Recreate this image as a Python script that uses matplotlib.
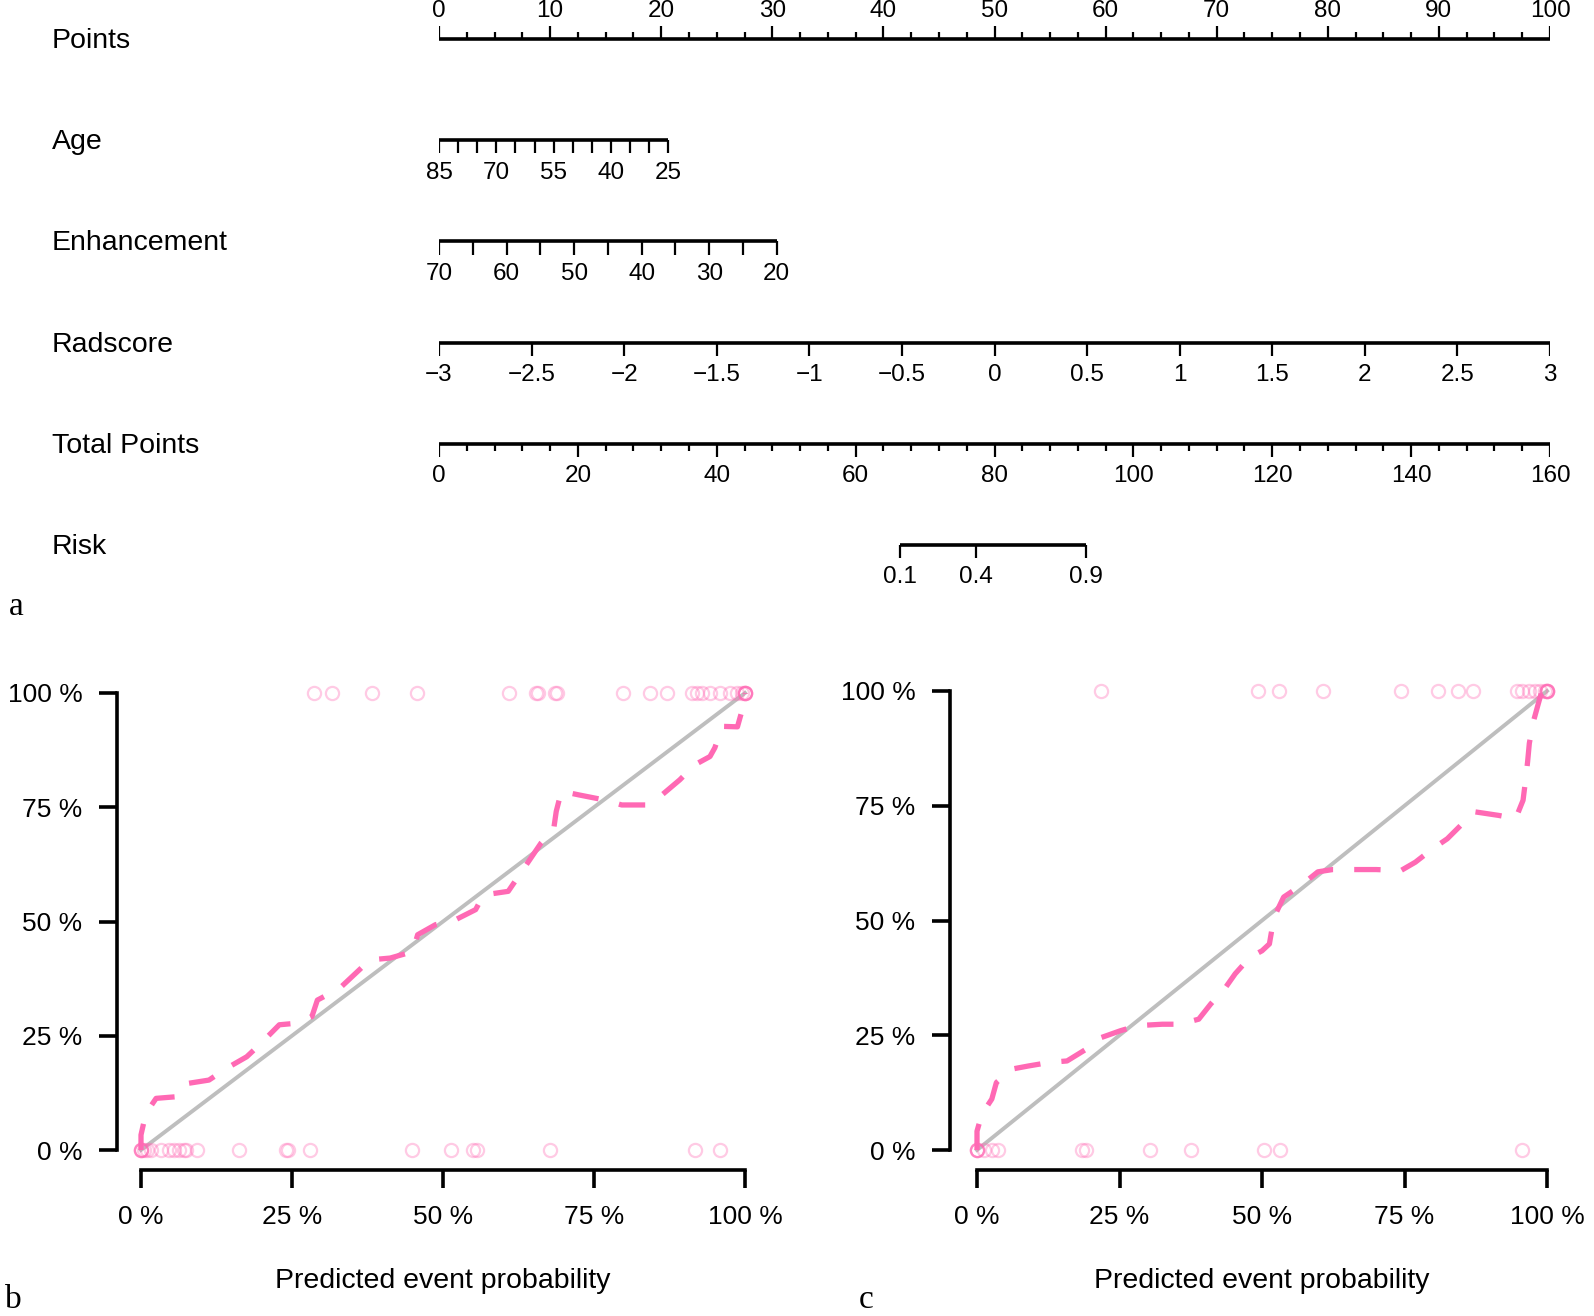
import numpy as np
import matplotlib.pyplot as plt
from matplotlib.transforms import blended_transform_factory

plt.rcParams['font.family'] = ['Liberation Sans', 'DejaVu Sans']

# ---- nomogram (a) ----
row_names = ['Points', 'Age', 'Enhancement', 'Radscore', 'Total Points', 'Risk']

points_major = np.arange(0, 101, 10)
points_minor = np.arange(0, 100.1, 2.5)

age_ticks = np.arange(85, 24, -5)
age_labels = [85, 70, 55, 40, 25]
age_span = [85, 25]
age_pts = [0, 20.65]

enh_ticks = np.arange(70, 19, -5)
enh_labels = [70, 60, 50, 40, 30, 20]
enh_span = [70, 20]
enh_pts = [0, 30.4]

rad_ticks = [-3, -2.5, -2, -1.5, -1, -0.5, 0, 0.5, 1, 1.5, 2, 2.5, 3]
rad_span = [-3, 3]
rad_pts = [0, 100]

total_major = np.arange(0, 161, 20)
total_minor = np.arange(0, 161, 4)
total_span = [0, 160]

risk_labels = [0.1, 0.4, 0.9]
risk_total = [66.4, 77.3, 93.2]

# ---- calibration curves (b, c) ----
pct_ticks = [0, 0.25, 0.5, 0.75, 1.0]
pct_labels = ['0 %', '25 %', '50 %', '75 %', '100 %']

b_curve_x = [0, 0, 0.008, 0.025, 0.0625, 0.079, 0.1125, 0.142, 0.175, 0.196, 0.229, 0.254,
             0.283, 0.292, 0.329, 0.35, 0.379, 0.4125, 0.45, 0.458, 0.4875, 0.521, 0.554,
             0.567, 0.608, 0.625, 0.6625, 0.683, 0.6875, 0.696, 0.725, 0.767, 0.796, 0.8375,
             0.8625, 0.892, 0.917, 0.942, 0.95, 0.9625, 0.9875, 1.0, 1.0]
b_curve_y = [0, 0.033, 0.08, 0.113, 0.117, 0.146, 0.153, 0.179, 0.204, 0.23, 0.274, 0.277,
             0.292, 0.328, 0.354, 0.38, 0.416, 0.42, 0.434, 0.471, 0.493, 0.504, 0.526,
             0.558, 0.566, 0.599, 0.672, 0.70, 0.741, 0.785, 0.777, 0.766, 0.755, 0.755,
             0.777, 0.81, 0.843, 0.861, 0.88, 0.927, 0.926, 0.985, 1.0]
b_top = [0.286, 0.317, 0.383, 0.457, 0.61, 0.654, 0.658, 0.685, 0.689, 0.7975, 0.843, 0.871,
         0.9125, 0.921, 0.929, 0.942, 0.958, 0.975, 0.9875, 0.995, 1.0, 1.0, 1.0, 1.0, 1.0]
b_bottom = [0, 0, 0, 0, 0.005, 0.01, 0.017, 0.033, 0.046, 0.054, 0.0625, 0.071, 0.075, 0.092,
            0.1625, 0.24, 0.243, 0.279, 0.448, 0.5125, 0.55, 0.556, 0.677, 0.917, 0.958]

c_curve_x = [0, 0, 0.0085, 0.026, 0.034, 0.06, 0.09, 0.128, 0.158, 0.192, 0.218, 0.252, 0.282,
             0.325, 0.355, 0.389, 0.41, 0.436, 0.453, 0.479, 0.5, 0.513, 0.521, 0.538, 0.568,
             0.598, 0.624, 0.7, 0.744, 0.769, 0.799, 0.825, 0.855, 0.872, 0.915, 0.945,
             0.958, 0.962, 0.966, 0.969, 0.976, 0.984, 0.991]
c_curve_y = [0, 0.041, 0.078, 0.111, 0.147, 0.176, 0.183, 0.191, 0.194, 0.22, 0.245, 0.26,
             0.271, 0.274, 0.274, 0.285, 0.318, 0.354, 0.384, 0.42, 0.434, 0.449, 0.507,
             0.551, 0.576, 0.606, 0.611, 0.611, 0.609, 0.627, 0.656, 0.678, 0.715, 0.737,
             0.729, 0.722, 0.762, 0.802, 0.846, 0.886, 0.933, 0.969, 1.0]
c_top = [0.218, 0.493, 0.53, 0.607, 0.744, 0.809, 0.844, 0.87, 0.947, 0.957, 0.968, 0.979,
         0.987, 0.996, 1.0, 1.0, 1.0, 1.0, 1.0]
c_bottom = [0, 0, 0, 0, 0.013, 0.026, 0.036, 0.184, 0.192, 0.303, 0.376, 0.503, 0.532, 0.956]

PINK = '#FF69B4'
W, H = 1594, 1316


def lin(v, span, pts):
    v = np.asarray(v, dtype=float)
    return pts[0] + (v - span[0]) / (span[1] - span[0]) * (pts[1] - pts[0])


def fmt(v):
    return ('%g' % v).replace('-', '\u2212')


def scale_row(ax, row, x_line, x_ticks, tick_len, x_labels=None, labels=None, up=False):
    d = -1 if up else 1
    off = 0.28 if up else 0.32
    ax.plot(x_line, [row, row], color='black', lw=2.6, solid_capstyle='butt')
    for x, ln in zip(x_ticks, tick_len):
        ax.plot([x, x], [row, row + d * ln], color='black', lw=1.6, solid_capstyle='butt')
    if labels is not None:
        for x, s in zip(x_labels, labels):
            ax.text(x, row + d * off, s, ha='center', va='center', fontsize=17.5)


fig = plt.figure(figsize=(W / 100, H / 100), dpi=100)

nom = fig.add_axes([439 / W, 1 - 600 / H, 1111 / W, 600 / H])
nom.set_xlim(0, 100)
nom.set_ylim((600 - 39) / 101.2, -39 / 101.2)
nom.axis('off')

# Points
minor = [p for p in points_minor if p % 10 != 0]
xs = list(points_major) + minor
lens = [0.13] * len(points_major) + [0.07] * len(minor)
scale_row(nom, 0, [0, 100], xs, lens, points_major, [fmt(p) for p in points_major], up=True)

# Age
scale_row(nom, 1, lin(age_span, age_span, age_pts), lin(age_ticks, age_span, age_pts),
          [0.13] * len(age_ticks), lin(age_labels, age_span, age_pts), [fmt(a) for a in age_labels])

# Enhancement
scale_row(nom, 2, lin(enh_span, enh_span, enh_pts), lin(enh_ticks, enh_span, enh_pts),
          [0.13] * len(enh_ticks), lin(enh_labels, enh_span, enh_pts), [fmt(e) for e in enh_labels])

# Radscore
scale_row(nom, 3, lin(rad_span, rad_span, rad_pts), lin(rad_ticks, rad_span, rad_pts),
          [0.13] * len(rad_ticks), lin(rad_ticks, rad_span, rad_pts), [fmt(r) for r in rad_ticks])

# Total Points
t_minor = [t for t in total_minor if t % 20 != 0]
t_xs = list(total_major) + t_minor
t_lens = [0.13] * len(total_major) + [0.07] * len(t_minor)
scale_row(nom, 4, lin(total_span, total_span, [0, 100]), lin(t_xs, total_span, [0, 100]), t_lens,
          lin(total_major, total_span, [0, 100]), [fmt(t) for t in total_major])

# Risk
risk_x = lin(risk_total, total_span, [0, 100])
scale_row(nom, 5, [risk_x[0], risk_x[-1]], risk_x, [0.13] * len(risk_x), risk_x,
          [fmt(r) for r in risk_labels])

tr = blended_transform_factory(fig.transFigure, nom.transData)
for i, name in enumerate(row_names):
    nom.text(52 / W, i + 0.02, name, transform=tr, ha='left', va='center', fontsize=20.5)


def calib(rect, cx, cy, top, bottom, yoff):
    ax = fig.add_axes(rect)
    ax.plot([0, 1], [0, 1], color='#BEBEBE', lw=2.8, clip_on=False, zorder=2)
    ax.plot(cx, cy, color=PINK, lw=3.8, ls=(0, (5, 4)), clip_on=False, zorder=3)
    ax.plot(top, np.ones(len(top)), 'o', mfc='none', mec=PINK, alpha=0.35, ms=9.5, mew=1.6,
            clip_on=False, zorder=4)
    ax.plot(bottom, np.zeros(len(bottom)), 'o', mfc='none', mec=PINK, alpha=0.35, ms=9.5, mew=1.6,
            clip_on=False, zorder=4)
    ax.set_xlim(0, 1)
    ax.set_ylim(0, 1)
    ax.set_xticks(pct_ticks)
    ax.set_xticklabels(pct_labels)
    ax.set_yticks(pct_ticks)
    ax.set_yticklabels(pct_labels)
    ax.spines['top'].set_visible(False)
    ax.spines['right'].set_visible(False)
    ax.spines['left'].set_position(('outward', yoff * 0.72))
    ax.spines['bottom'].set_position(('outward', 20 * 0.72))
    for s in ['left', 'bottom']:
        ax.spines[s].set_bounds(0, 1)
        ax.spines[s].set_linewidth(2.6)
    ax.tick_params(length=13, width=2.6, labelsize=19, pad=12)
    ax.set_xlabel('Predicted event probability', fontsize=20.5, labelpad=28)
    ax.patch.set_visible(False)
    return ax


calib([141 / W, 1 - 1150 / H, 604 / W, 457 / H], b_curve_x, b_curve_y, b_top, b_bottom, 24)
calib([977 / W, 1 - 1150 / H, 570 / W, 459 / H], c_curve_x, c_curve_y, c_top, c_bottom, 27)

for lab, x, y in [('a', 16, 615), ('b', 13, 1308), ('c', 866, 1308)]:
    fig.text(x / W, 1 - y / H, lab, family='Liberation Serif', fontsize=24, ha='center', va='baseline')

fig.savefig('out.png', dpi=100)
